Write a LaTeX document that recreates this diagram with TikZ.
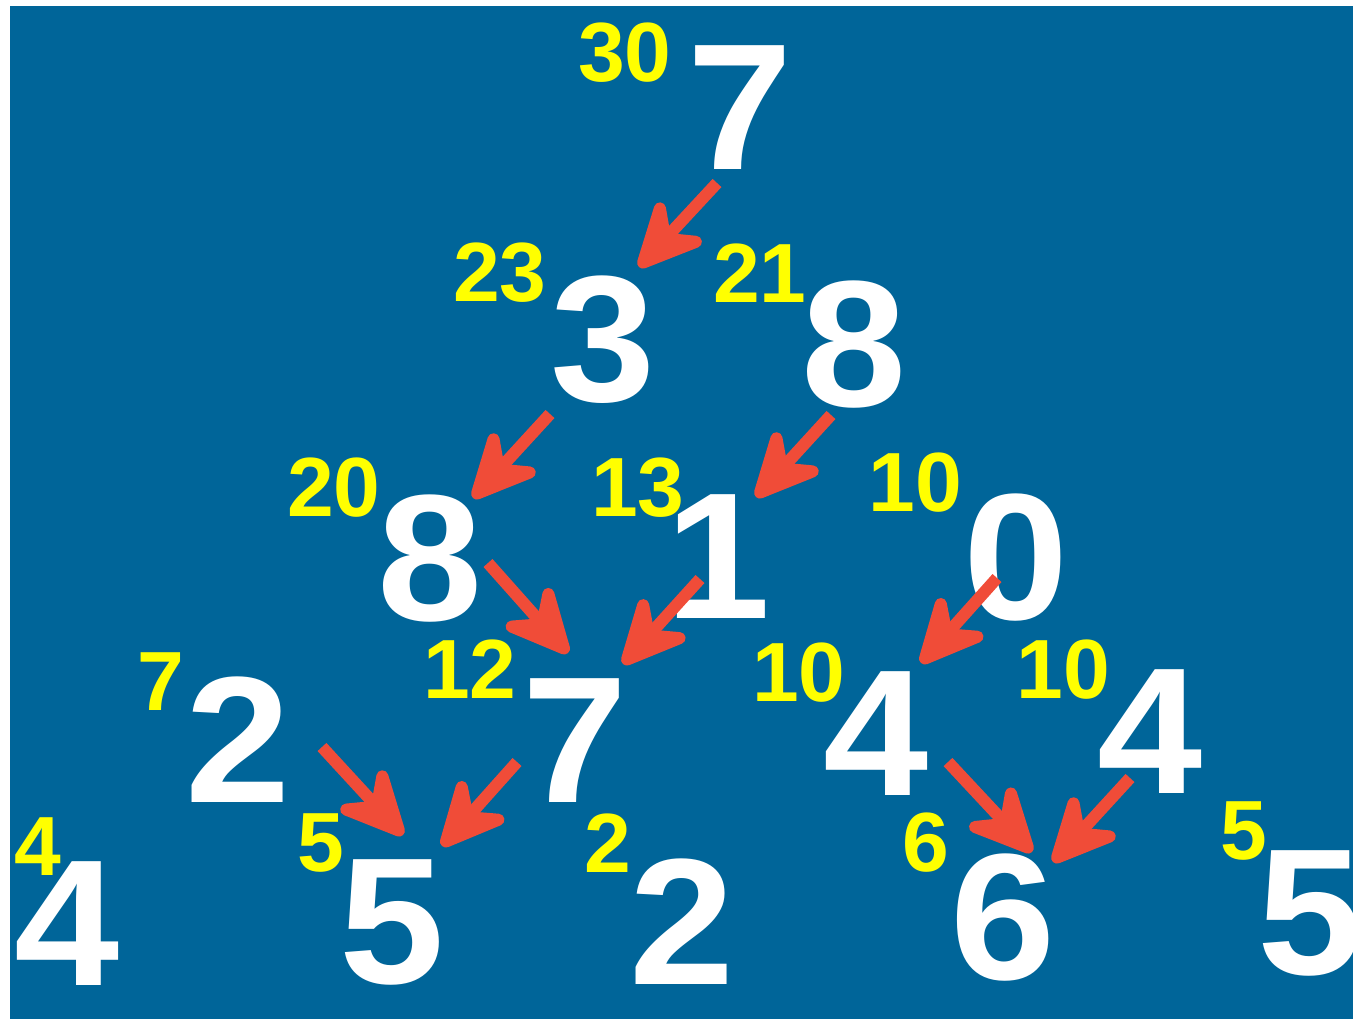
\documentclass[tikz,border=0pt]{standalone}
\usepackage{fontspec}
\setmainfont{Liberation Sans}
\usepackage{tikz}
\usetikzlibrary{arrows.meta, positioning}
\definecolor{boardblue}{RGB}{0,101,153}
\definecolor{sumyellow}{RGB}{255,255,0}
\definecolor{pathred}{RGB}{240,76,56}
\tikzset{
    digit/.style={inner sep=0pt, text=white, xscale=1.05, font=\bfseries\fontsize{90}{90}\selectfont},
    total/.style={inner sep=0pt, text=sumyellow, font=\bfseries\fontsize{42}{42}\selectfont},
    arrow/.style={line width=6pt, pathred, -{Stealth[length=42pt, width=40pt, inset=15pt, round]}}
}

\begin{document}
\begin{tikzpicture}[x=0.5pt, y=-0.5pt]
    \useasboundingbox (0,0) rectangle (1353,1022);
    \fill[white] (0,0) rectangle (1353,1022);
    \fill[boardblue] (10,6) rectangle (1353,1019);

    % Row 1
    \node[digit] (t7) at (740,108) {7};
    % Row 2
    \node[digit] (n3) at (603,340) {3};
    \node[digit] (n8a) at (854,345) {8};
    % Row 3
    \node[digit] (n8b) at (430,559) {8};
    \node[digit] (n1) at (718,557) {1};
    \node[digit] (n0) at (1016,558) {0};
    % Row 4
    \node[digit] (n2a) at (238,740) {2};
    \node[digit] (n7) at (575,741) {7};
    \node[digit] (n4a) at (876,734) {4};
    \node[digit] (n4b) at (1150,732) {4};
    % Row 5
    \node[digit] (n4c) at (67,924) {4};
    \node[digit] (n5a) at (392,922) {5};
    \node[digit] (n2b) at (682,922) {2};
    \node[digit] (n6) at (1003,918) {6};
    \node[digit] (n5b) at (1310,913) {5};

    % Path sums
    \node[total] (s30) at (625,53) {30};
    \node[total] (s23) at (500,273) {23};
    \node[total] (s21) at (760,273) {21};
    \node[total] (s20) at (334,488) {20};
    \node[total] (s13) at (638,488) {13};
    \node[total] (s10a) at (915,483) {10};
    \node[total] (s7) at (161,682) {7};
    \node[total] (s12) at (470,669) {12};
    \node[total] (s10b) at (799,673) {10};
    \node[total] (s10c) at (1063,670) {10};
    \node[total] (s4) at (38,847) {4};
    \node[total] (s5a) at (321,843) {5};
    \node[total] (s2) at (608,843) {2};
    \node[total] (s6) at (926,843) {6};
    \node[total] (s5b) at (1244,831) {5};

    % Arrows
    \draw[arrow] ([shift={(-23,75)}]t7.center) -- ([shift={(36,-73)}]n3.center);
    \draw[arrow] ([shift={(-53,74)}]n3.center) -- ([shift={(43,-61)}]n8b.center);
    \draw[arrow] ([shift={(-23,70)}]n8a.center) -- ([shift={(38,-60)}]n1.center);
    \draw[arrow] ([shift={(58,4)}]n8b.center) -- ([shift={(-7,-88)}]n7.center);
    \draw[arrow] ([shift={(-18,22)}]n1.center) -- ([shift={(48,-77)}]n7.center);
    \draw[arrow] ([shift={(-19,20)}]n0.center) -- ([shift={(45,-71)}]n4a.center);
    \draw[arrow] ([shift={(84,7)}]n2a.center) -- ([shift={(11,-87)}]n5a.center);
    \draw[arrow] ([shift={(-58,21)}]n7.center) -- ([shift={(50,-76)}]n5a.center);
    \draw[arrow] ([shift={(72,28)}]n4a.center) -- ([shift={(29,-66)}]n6.center);
    \draw[arrow] ([shift={(-20,46)}]n4b.center) -- ([shift={(50,-56)}]n6.center);
\end{tikzpicture}
\end{document}
